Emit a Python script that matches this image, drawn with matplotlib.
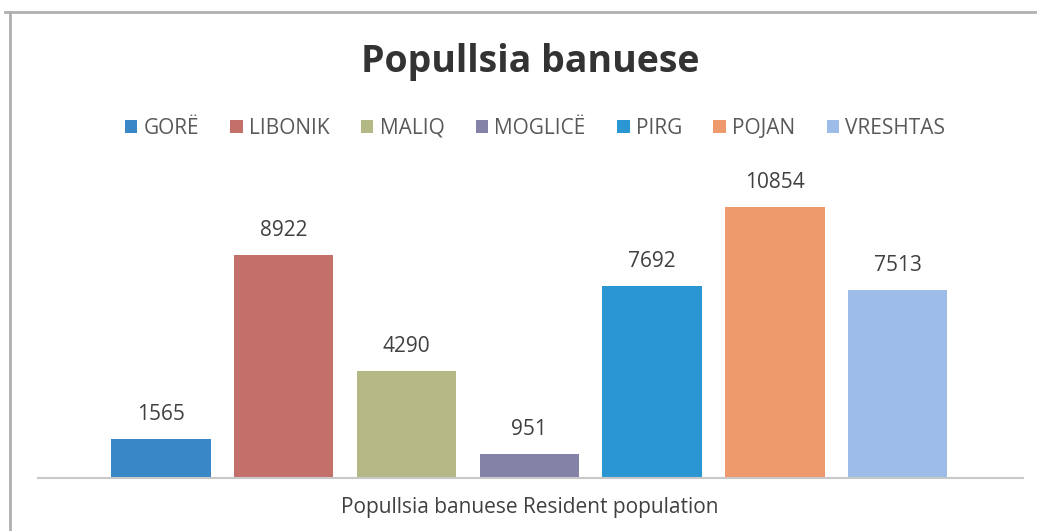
import matplotlib.pyplot as plt
from matplotlib.patches import Patch
from matplotlib.lines import Line2D

# donnees du graphique
fshatrat = ['GORË', 'LIBONIK', 'MALIQ', 'MOGLICË', 'PIRG', 'POJAN', 'VRESHTAS']
banore = [1565, 8922, 4290, 951, 7692, 10854, 7513]
ngjyrat = ['#3a87c8', '#c4706a', '#b3b885', '#8582a8', '#2a96d4', '#ee9a6c', '#9dbde8']

plt.rcParams['font.family'] = ['Open Sans', 'DejaVu Sans']

fig = plt.figure(figsize=(10.37, 5.31), dpi=100)
ax = fig.add_axes([38 / 1037, 1 - 478 / 531, (1023 - 38) / 1037, 0.565])

x = range(len(fshatrat))
bars = ax.bar(x, banore, width=0.81, color=ngjyrat)
for b, v in zip(bars, banore):
    ax.text(b.get_x() + b.get_width() / 2, v + 550, str(v), ha='center', va='bottom',
            fontsize=15, color='#404040')

ax.set_xlim(-1.0, 7.02)
ax.set_ylim(0, 12000)
ax.set_xticks([])
ax.set_yticks([])
for s in ['top', 'right', 'left']:
    ax.spines[s].set_visible(False)
ax.spines['bottom'].set_color('#c8c8c8')
ax.spines['bottom'].set_linewidth(1.5)

# titre et legende
fig.text(530 / 1037, 1 - 62 / 531, 'Popullsia banuese', ha='center', va='center',
         fontsize=27, fontweight='bold', color='#333333')
handles = [Patch(facecolor=c) for c in ngjyrat]
fig.legend(handles, fshatrat, loc='center', bbox_to_anchor=(535 / 1037, 1 - 128 / 531),
           ncol=7, frameon=False, fontsize=15, handlelength=0.6, handleheight=0.6,
           handletextpad=0.3, columnspacing=1.5, labelcolor='#595959')
fig.text(530 / 1037, 1 - 508 / 531, 'Popullsia banuese Resident population', ha='center',
         va='center', fontsize=15, color='#404040')

# cadre
fig.add_artist(Line2D([10 / 1037, 10 / 1037], [0, 1 - 12 / 531], color='#b0b0b0', lw=2))
fig.add_artist(Line2D([5 / 1037, 1], [1 - 12 / 531, 1 - 12 / 531], color='#b0b0b0', lw=2))

fig.savefig('out.png', dpi=100)
